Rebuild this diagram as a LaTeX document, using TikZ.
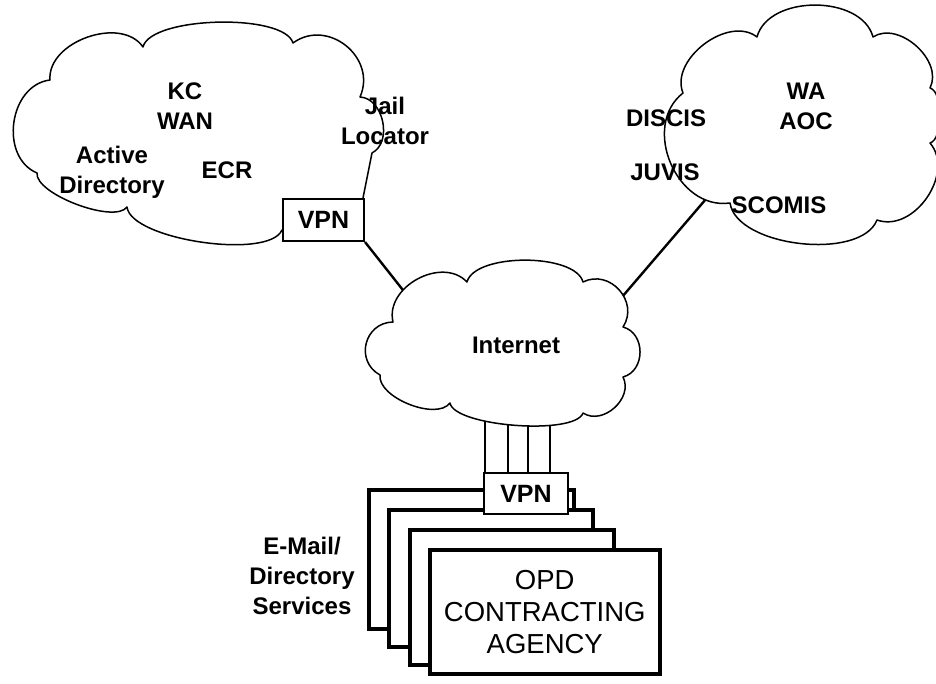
\documentclass[tikz,border=0pt]{standalone}
\usepackage{fontspec}
\setmainfont{Liberation Sans}
\usetikzlibrary{calc}
\begin{document}
\begin{tikzpicture}[x=1pt,y=-1pt,
  cloudline/.style={draw=black,line width=1.5pt,fill=white,line join=round},
  link/.style={line width=2.4pt},
  feed/.style={line width=1.8pt},
  vpnbox/.style={draw,line width=2pt,fill=white,inner sep=0pt,
    font=\bfseries\fontsize{25}{30}\selectfont},
  stackbox/.style={draw,line width=3.5pt,fill=white,inner sep=0pt,anchor=north west},
  lbl/.style={font=\bfseries\fontsize{24}{30}\selectfont,align=center,inner sep=0pt},
  boxlbl/.style={font=\fontsize{27.5}{32}\selectfont,align=center}]
\useasboundingbox (0,0) rectangle (936,684);
\fill[white] (0,0) rectangle (936,684);

% cloud corner points
\coordinate (l1) at (50,80);   \coordinate (l2) at (143,47);
\coordinate (l3) at (293,43);  \coordinate (l4) at (360,97);
\coordinate (l5) at (372,153); \coordinate (l6a) at (282,230);
\coordinate (l6) at (127,207); \coordinate (l7) at (37,173);

\coordinate (r1) at (730,203); \coordinate (r2) at (683,93);
\coordinate (r3) at (757,37);  \coordinate (r4) at (873,37);
\coordinate (r5) at (930,88);  \coordinate (r6) at (930,143);
\coordinate (r7) at (877,220);

\coordinate (i1) at (393,322); \coordinate (i2) at (467,282);
\coordinate (i3) at (583,282); \coordinate (i4) at (623,327);
\coordinate (i5) at (623,377); \coordinate (i6) at (583,413);
\coordinate (i7) at (450,403); \coordinate (i8) at (380,375);

% connector end points (inside the clouds, hidden by their fill)
\coordinate (inetL) at (410,299);
\coordinate (inetR) at (622,297);
\coordinate (waL) at (712,192);
\coordinate (f1) at (485,400); \coordinate (f2) at (508,400);
\coordinate (f3) at (528,400); \coordinate (f4) at (550,400);

% VPN boxes defined first (for connector anchors)
\node[vpnbox,anchor=north west,minimum width=81pt,minimum height=42pt] (vpnA) at (282,198) {};
\node[vpnbox,anchor=north west,minimum width=84pt,minimum height=41pt] (vpnB) at (483,472) {};

% connectors
\draw[link] (vpnA.south east) -- (inetL);
\draw[link] (waL) -- (inetR);
\foreach \f in {f1,f2,f3,f4}{\draw[feed] (\f) -- (\f |- vpnB.north);}

% left cloud (KC WAN)
\draw[cloudline] (l1)
 .. controls ($(l1)!0.39!75:(l2)$) and ($(l2)!0.39!-75:(l1)$) .. (l2)
 .. controls ($(l2)!0.21!75:(l3)$) and ($(l3)!0.21!-75:(l2)$) .. (l3)
 .. controls ($(l3)!0.5!75:(l4)$) and ($(l4)!0.5!-75:(l3)$) .. (l4)
 .. controls ($(l4)!0.41!75:(l5)$) and ($(l5)!0.41!-75:(l4)$) .. (l5)
 -- (363,198) -- (363,230) -- (l6a)
 .. controls ($(l6a)!0.21!75:(l6)$) and ($(l6)!0.21!-75:(l6a)$) .. (l6)
 .. controls ($(l6)!0.22!75:(l7)$) and ($(l7)!0.22!-75:(l6)$) .. (l7)
 .. controls ($(l7)!0.44!75:(l1)$) and ($(l1)!0.44!-75:(l7)$) .. (l1) -- cycle;

% right cloud (WA AOC)
\draw[cloudline] (r1)
 .. controls ($(r1)!0.45!75:(r2)$) and ($(r2)!0.45!-75:(r1)$) .. (r2)
 .. controls ($(r2)!0.39!75:(r3)$) and ($(r3)!0.39!-75:(r2)$) .. (r3)
 .. controls ($(r3)!0.38!75:(r4)$) and ($(r4)!0.38!-75:(r3)$) .. (r4)
 .. controls ($(r4)!0.4!75:(r5)$) and ($(r5)!0.4!-75:(r4)$) .. (r5)
 .. controls ($(r5)!0.25!75:(r6)$) and ($(r6)!0.25!-75:(r5)$) .. (r6)
 .. controls ($(r6)!0.42!75:(r7)$) and ($(r7)!0.42!-75:(r6)$) .. (r7)
 .. controls ($(r7)!0.3!75:(r1)$) and ($(r1)!0.3!-75:(r7)$) .. (r1) -- cycle;

% Internet cloud
\draw[cloudline] (i1)
 .. controls ($(i1)!0.43!75:(i2)$) and ($(i2)!0.43!-75:(i1)$) .. (i2)
 .. controls ($(i2)!0.26!75:(i3)$) and ($(i3)!0.26!-75:(i2)$) .. (i3)
 .. controls ($(i3)!0.5!75:(i4)$) and ($(i4)!0.5!-75:(i3)$) .. (i4)
 .. controls ($(i4)!0.47!75:(i5)$) and ($(i5)!0.47!-75:(i4)$) .. (i5)
 .. controls ($(i5)!0.44!75:(i6)$) and ($(i6)!0.44!-75:(i5)$) .. (i6)
 .. controls ($(i6)!0.18!75:(i7)$) and ($(i7)!0.18!-75:(i6)$) .. (i7)
 .. controls ($(i7)!0.3!75:(i8)$) and ($(i8)!0.3!-75:(i7)$) .. (i8)
 .. controls ($(i8)!0.53!75:(i1)$) and ($(i1)!0.53!-75:(i8)$) .. (i1) -- cycle;

% top VPN box (redrawn on top of cloud)
\node[vpnbox,anchor=north west,minimum width=81pt,minimum height=42pt] (vpnAtop) at (282,198) {VPN};

% stacked agency boxes
\node[stackbox,minimum width=205pt,minimum height=139pt] (s1) at (367,488) {};
\node[stackbox,minimum width=204pt,minimum height=137pt] (s2) at (387,508) {};
\node[stackbox,minimum width=204pt,minimum height=135pt] (s3) at (408,528) {};
\node[stackbox,minimum width=230pt,minimum height=124pt,boxlbl] (s4) at (428,548) {OPD\\CONTRACTING\\AGENCY};

% bottom VPN box on top
\node[vpnbox,anchor=north west,minimum width=84pt,minimum height=41pt] (vpnBtop) at (483,472) {VPN};

% labels
\node[lbl] (kc) at (185,106) {KC\\WAN};
\node[lbl] (ad) at (112,172) {Active\\Directory};
\node[lbl] (ecr) at (227,170) {ECR};
\node[lbl] (jail) at (385,121) {Jail\\Locator};
\node[lbl] (wa) at (806,106) {WA\\AOC};
\node[lbl] (discis) at (666,118) {DISCIS};
\node[lbl] (juvis) at (665,172) {JUVIS};
\node[lbl] (scomis) at (779,205) {SCOMIS};
\node[lbl] (inet) at (516,345) {Internet};
\node[lbl] (email) at (302,576) {E-Mail/\\Directory\\Services};
\end{tikzpicture}
\end{document}
